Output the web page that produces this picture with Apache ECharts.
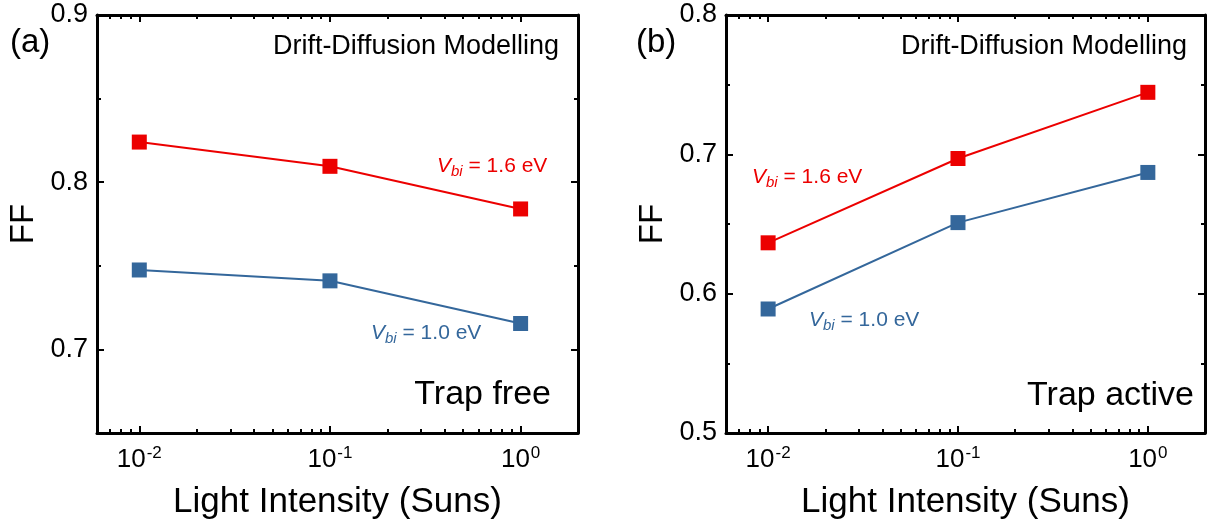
<!DOCTYPE html>
<html>
<head>
<meta charset="utf-8">
<script src="https://cdn.jsdelivr.net/npm/echarts@6/dist/echarts.min.js"></script>
<style>
  html, body { margin: 0; padding: 0; background: #fff; }
  #chart { width: 1211px; height: 525px; }
</style>
</head>
<body>
<div id="chart"></div>
<script>
// light intensity (suns)
let intensity = [0.01, 0.1, 1]
// trap free panel
let freeHigh = [0.824, 0.8095, 0.784]
let freeLow = [0.7475, 0.741, 0.7155]
// trap active panel
let activeHigh = [0.6365, 0.697, 0.7445]
let activeLow = [0.589, 0.651, 0.687]

let xMajor = [0.01, 0.1, 1]
let xMinor = [0.007, 0.008, 0.009, 0.02, 0.03, 0.04, 0.05, 0.06, 0.07, 0.08, 0.09,
  0.2, 0.3, 0.4, 0.5, 0.6, 0.7, 0.8, 0.9]
let yMajorA = [0.7, 0.8, 0.9]
let yMinorA = [0.75, 0.85]
let yMajorB = [0.5, 0.6, 0.7, 0.8]
let yMinorB = [0.55, 0.65, 0.75]

const RED = '#ec0000'
const BLUE = '#34679b'
const FONT = '"Liberation Sans", Arial, sans-serif'

let myChart = echarts.init(document.getElementById('chart'))

function pairs(ys) {
  return intensity.map((x, i) => [x, ys[i]])
}

// one x axis (log) for a grid
function xAxisOf(grid, pos, ticks, len, showLine, showLabel) {
  return {
    type: 'log', gridIndex: grid, position: pos, min: 0.006, max: 2,
    axisLine: { show: showLine, onZero: false, lineStyle: { color: '#000', width: 3 } },
    axisTick: { show: true, inside: true, length: len, customValues: ticks,
      lineStyle: { color: '#000', width: 2 } },
    axisLabel: {
      show: showLabel, customValues: xMajor, margin: 12,
      formatter: function (v) {
        return '{b|10}{s|' + Math.round(Math.log10(v)) + '}'
      },
      rich: {
        b: { fontSize: 26, fontFamily: FONT, color: '#000' },
        s: { fontSize: 17, fontFamily: FONT, color: '#000', padding: [0, 0, 13, 1] }
      }
    },
    splitLine: { show: false },
    minorTick: { show: false }
  }
}

function yAxisOf(grid, pos, min, max, ticks, len, showLine, showLabel) {
  return {
    type: 'value', gridIndex: grid, position: pos, min: min, max: max,
    axisLine: { show: showLine, onZero: false, lineStyle: { color: '#000', width: 3 } },
    axisTick: { show: true, inside: true, length: len, customValues: ticks,
      lineStyle: { color: '#000', width: 2 } },
    axisLabel: {
      show: showLabel, customValues: ticks, margin: 9,
      fontSize: 27, fontFamily: FONT, color: '#000',
      formatter: v => v.toFixed(1)
    },
    splitLine: { show: false },
    name: showLabel ? 'FF' : '',
    nameLocation: 'middle',
    nameGap: 57,
    nameTextStyle: { fontSize: 33, fontFamily: FONT, color: '#000' }
  }
}

function lineSeries(xi, yi, ys, color) {
  return {
    type: 'line', xAxisIndex: xi, yAxisIndex: yi, data: pairs(ys),
    symbol: 'rect', symbolSize: 15,
    lineStyle: { color: color, width: 2 },
    itemStyle: { color: color },
    animation: false
  }
}

function vLabel(x, y, val, color) {
  return {
    type: 'text', x: x, y: y,
    style: {
      text: '{v|V}{s|bi}{t| = ' + val + ' eV}',
      fill: color, verticalAlign: 'middle',
      rich: {
        v: { fontSize: 21, fontStyle: 'italic', fontFamily: FONT, fill: color },
        s: { fontSize: 15, fontStyle: 'italic', fontFamily: FONT, fill: color, padding: [11, 0, 0, 0] },
        t: { fontSize: 21, fontFamily: FONT, fill: color }
      }
    }
  }
}

function plainText(x, y, text, size, align) {
  return {
    type: 'text', x: x, y: y,
    style: { text: text, fontSize: size, fontFamily: FONT, fill: '#000',
      align: align, verticalAlign: 'middle' }
  }
}

const xName = {
  name: 'Light Intensity (Suns)', nameLocation: 'middle', nameGap: 52,
  nameTextStyle: { fontSize: 35, fontFamily: FONT, color: '#000' }
}

let option = {
  backgroundColor: '#fff',
  animation: false,
  grid: [
    { left: 97, top: 15, width: 481, height: 420 },
    { left: 726, top: 15, width: 479, height: 420 }
  ],
  xAxis: [
    Object.assign(xAxisOf(0, 'bottom', xMajor, 7, true, true), xName),
    xAxisOf(0, 'bottom', xMinor, 4, false, false),
    xAxisOf(0, 'top', xMajor, 7, true, false),
    xAxisOf(0, 'top', xMinor, 4, false, false),
    Object.assign(xAxisOf(1, 'bottom', xMajor, 7, true, true), xName),
    xAxisOf(1, 'bottom', xMinor, 4, false, false),
    xAxisOf(1, 'top', xMajor, 7, true, false),
    xAxisOf(1, 'top', xMinor, 4, false, false)
  ],
  yAxis: [
    yAxisOf(0, 'left', 0.65, 0.9, yMajorA, 7, true, true),
    yAxisOf(0, 'left', 0.65, 0.9, yMinorA, 4, false, false),
    yAxisOf(0, 'right', 0.65, 0.9, yMajorA, 7, true, false),
    yAxisOf(0, 'right', 0.65, 0.9, yMinorA, 4, false, false),
    yAxisOf(1, 'left', 0.5, 0.8, yMajorB, 7, true, true),
    yAxisOf(1, 'left', 0.5, 0.8, yMinorB, 4, false, false),
    yAxisOf(1, 'right', 0.5, 0.8, yMajorB, 7, true, false),
    yAxisOf(1, 'right', 0.5, 0.8, yMinorB, 4, false, false)
  ],
  series: [
    lineSeries(0, 0, freeHigh, RED),
    lineSeries(0, 0, freeLow, BLUE),
    lineSeries(4, 4, activeHigh, RED),
    lineSeries(4, 4, activeLow, BLUE)
  ],
  graphic: [
    plainText(10, 43, '(a)', 33, 'left'),
    plainText(636, 43, '(b)', 33, 'left'),
    plainText(559, 47, 'Drift-Diffusion Modelling', 27, 'right'),
    plainText(1187, 47, 'Drift-Diffusion Modelling', 27, 'right'),
    plainText(551, 395, 'Trap free', 34, 'right'),
    plainText(1194, 396, 'Trap active', 34, 'right'),
    vLabel(437, 166, '1.6', RED),
    vLabel(371, 333, '1.0', BLUE),
    vLabel(752, 177, '1.6', RED),
    vLabel(809, 320, '1.0', BLUE)
  ]
}

myChart.setOption(option)
</script>
</body>
</html>
